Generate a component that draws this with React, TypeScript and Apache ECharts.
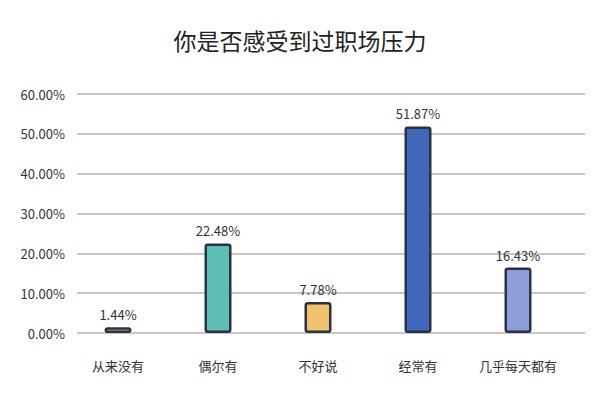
import React, { useEffect, useRef } from "react";
import * as echarts from "echarts";

const titleText = "你是否感受到过职场压力";
const categories = ["从来没有", "偶尔有", "不好说", "经常有", "几乎每天都有"];
const values = [1.44, 22.48, 7.78, 51.87, 16.43];
const barColors = ["#EC9A80", "#5CBFB3", "#F0C26C", "#3F68BA", "#8C9DD9"];
const yTicks = [0, 10, 20, 30, 40, 50, 60];

export default function App() {
  const ref = useRef<HTMLDivElement>(null);
  useEffect(() => {
    if (!ref.current) return;
    const chart = echarts.init(ref.current, null, { renderer: "svg" });
    const font = "'Noto Sans CJK SC', 'Noto Sans', sans-serif";
    chart.setOption({
      animation: false,
      backgroundColor: "#ffffff",
      title: {
        text: titleText,
        left: "center",
        top: 15,
        textStyle: { fontFamily: font, fontSize: 23, fontWeight: "normal", color: "#222" },
      },
      grid: [
        { left: 60, right: 24, top: 86, bottom: 59 },
        { left: 69, right: 7, top: 86, bottom: 59 },
      ],
      xAxis: [
        {
          type: "category",
          gridIndex: 0,
          data: categories,
          axisLine: { show: false },
          axisTick: { show: false },
          axisLabel: { interval: 0, margin: 26, fontFamily: font, fontSize: 13, color: "#333" },
        },
        {
          type: "category",
          gridIndex: 1,
          data: categories,
          show: false,
        },
      ],
      yAxis: [
        {
          type: "value",
          gridIndex: 0,
          min: yTicks[0],
          max: yTicks[yTicks.length - 1],
          interval: 10,
          show: false,
        },
        {
          type: "value",
          gridIndex: 1,
          min: yTicks[0],
          max: yTicks[yTicks.length - 1],
          interval: 10,
          axisLine: { show: false },
          axisTick: { show: false },
          axisLabel: {
            margin: 12,
            fontFamily: font,
            fontSize: 13,
            color: "#333",
            formatter: (v: number) => v.toFixed(2) + "%",
          },
          splitLine: { lineStyle: { color: "#C9C6C6", width: 2 } },
        },
      ],
      series: [
        {
          type: "bar",
          xAxisIndex: 0,
          yAxisIndex: 0,
          z: 5,
          barWidth: 27,
          data: values.map((v, i) => ({
            value: v,
            itemStyle: {
              color: barColors[i],
              borderColor: "#2A3345",
              borderWidth: 2.5,
              borderRadius: 2,
            },
          })),
          label: {
            show: true,
            position: "top",
            distance: 6,
            fontFamily: font,
            fontSize: 13,
            color: "#333",
            formatter: (p: any) => p.value.toFixed(2) + "%",
          },
        },
      ],
    });
    return () => chart.dispose();
  }, []);
  return <div ref={ref} style={{ width: 584, height: 384 }} />;
}
